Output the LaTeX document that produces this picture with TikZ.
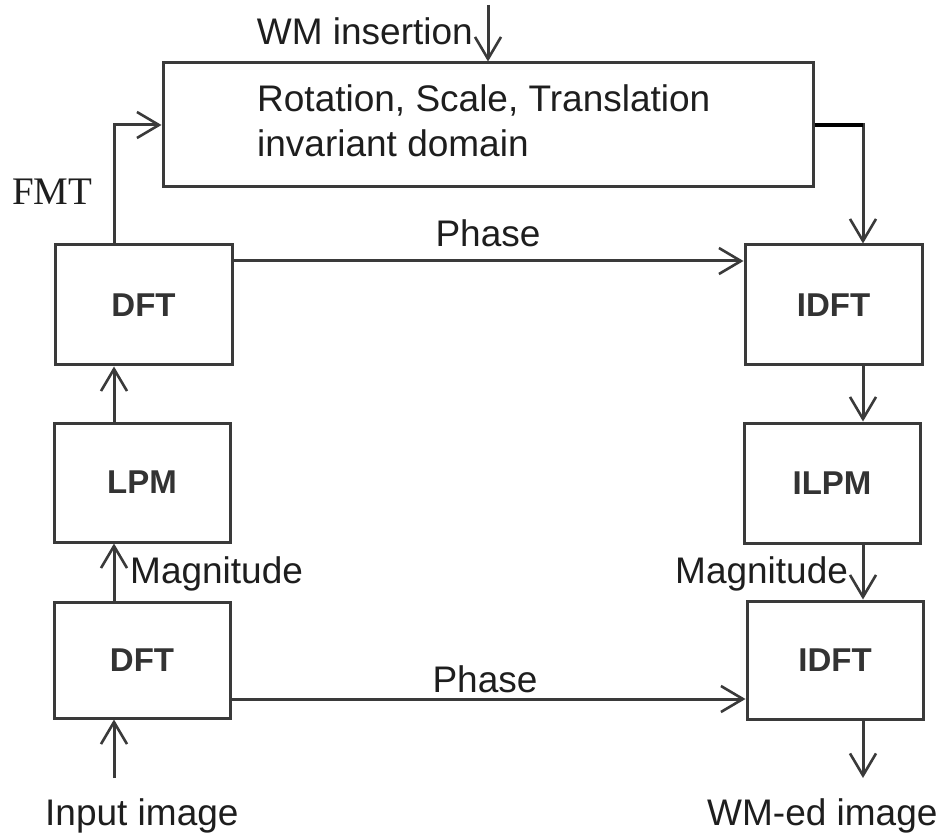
\documentclass[tikz,border=0pt]{standalone}
\usepackage{fontspec}
\setmainfont{Liberation Sans}
\newfontfamily\serifrm{Liberation Serif}
\usetikzlibrary{arrows.meta,calc}
\definecolor{linec}{HTML}{3A3A3A}
\definecolor{textc}{HTML}{1E1E1E}
\definecolor{boxtxt}{HTML}{333333}
\tikzset{
  blk/.style={draw=linec, line width=3pt, rectangle, fill=white, inner sep=0pt,
    font=\fontsize{33}{38}\selectfont\bfseries, text=boxtxt},
  conn/.style={draw=linec, line width=3pt},
  arr/.style={conn, -{Straight Barb[length=22pt,width=26pt,line width=2.6pt]}},
  lbl/.style={inner sep=0pt, font=\fontsize{37}{45}\selectfont, text=textc},
}
\begin{document}
\begin{tikzpicture}[x=1pt,y=-1pt]
\useasboundingbox[fill=white] (0,0) rectangle (943,834);
% named helper coordinates
\coordinate (xl) at (114,0);
\coordinate (xr) at (863,0);
\coordinate (yP1) at (0,261);
\coordinate (yP2) at (0,699);
\coordinate (wmtop) at (488,5);
\coordinate (inp) at (114,778);
\coordinate (outp) at (863,778);
% boxes
\node[blk, minimum width=650pt, minimum height=124pt] (rst) at (488,125) {};
\node[lbl, anchor=west, align=left] (rsttxt) at (257,121) {Rotation, Scale, Translation\\invariant domain};
\node[blk, minimum width=177pt, minimum height=120pt] (dft1) at (143.5,305) {DFT};
\node[blk, minimum width=176pt, minimum height=119pt] (lpm) at (142,482.5) {LPM};
\node[blk, minimum width=176pt, minimum height=116pt] (dft2) at (142,660) {DFT};
\node[blk, minimum width=177pt, minimum height=120pt] (idft1) at (833.5,305) {IDFT};
\node[blk, minimum width=176pt, minimum height=120pt] (ilpm) at (832,483) {ILPM};
\node[blk, minimum width=176pt, minimum height=118pt] (idft2) at (835,660) {IDFT};
% labels
\node[lbl, anchor=base east] (wm) at (473,45) {WM insertion};
\node[inner sep=0pt, anchor=base west, font=\serifrm\fontsize{39}{45}\selectfont, text=textc] (fmt) at (12,205) {FMT};
\node[lbl, anchor=base] (ph1) at (488,247) {Phase};
\node[lbl, anchor=base] (ph2) at (485,692) {Phase};
\node[lbl, anchor=base west] (mag1) at (130,583) {Magnitude};
\node[lbl, anchor=base west] (mag2) at (675,583) {Magnitude};
\node[lbl, anchor=base west] (inl) at (45,825) {Input image};
\node[lbl, anchor=base west] (outl) at (707,825) {WM-ed image};
% connectors
\draw[arr] (wmtop) -- (rst.north -| wmtop);
\draw[arr] (dft1.north -| xl) |- (rst.west);
\draw[arr] (rst.east) -| (idft1.north -| xr);
\draw[conn, draw=black, line width=3.5pt] (rst.east) -- (rst.east -| xr);
\draw[arr] (dft1.east |- yP1) -- (idft1.west |- yP1);
\draw[arr] (dft2.east |- yP2) -- (idft2.west |- yP2);
\draw[arr] (lpm.north -| xl) -- (dft1.south -| xl);
\draw[arr] (dft2.north -| xl) -- (lpm.south -| xl);
\draw[arr] (inp) -- (dft2.south -| xl);
\draw[arr] (idft1.south -| xr) -- (ilpm.north -| xr);
\draw[arr] (ilpm.south -| xr) -- (idft2.north -| xr);
\draw[arr] (idft2.south -| xr) -- (outp);
\end{tikzpicture}
\end{document}
